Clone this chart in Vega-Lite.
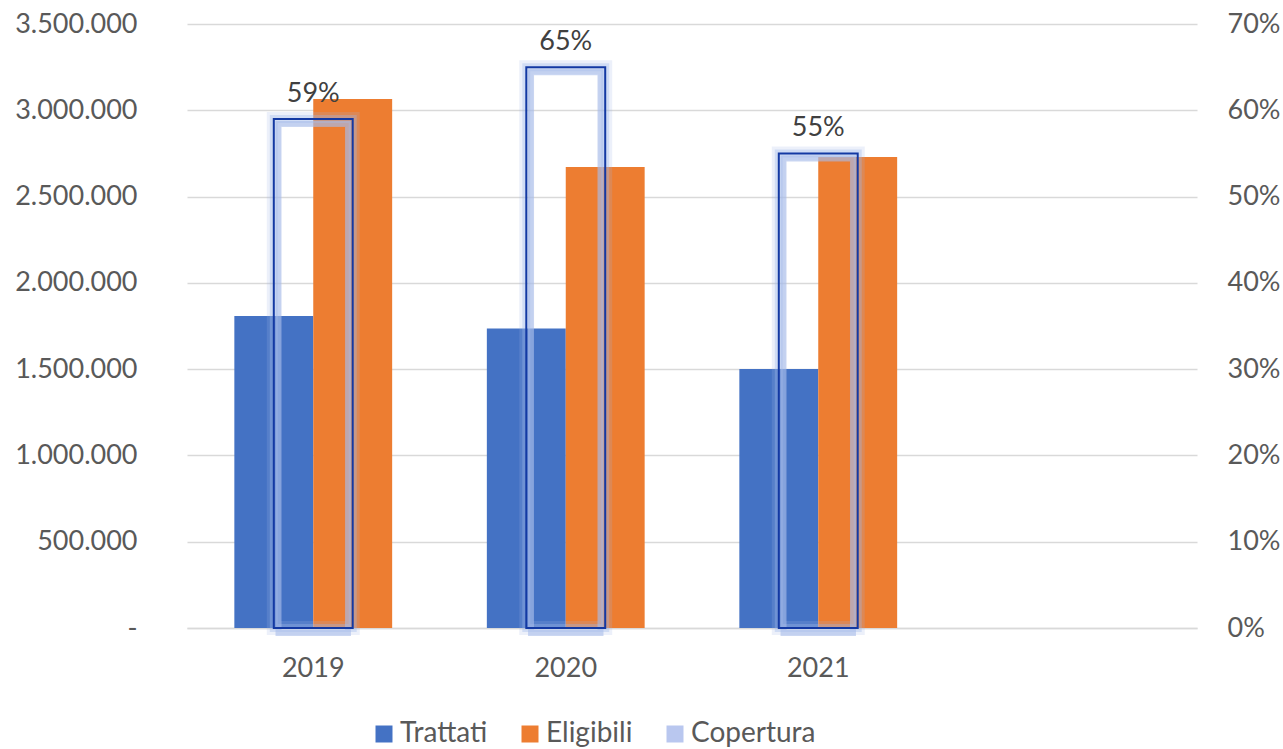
{
  "$schema": "https://vega.github.io/schema/vega-lite/v6.json",
  "width": 1010,
  "height": 604,
  "autosize": {"type": "none"},
  "padding": {"left": 187, "top": 24, "right": 86, "bottom": 121},
  "background": "white",
  "config": {
    "font": "Lato",
    "view": {"stroke": null},
    "locale": {"number": {"decimal": ",", "thousands": ".", "grouping": [3], "currency": ["", " €"]}}
  },
  "datasets": {
    "bars": [
      {"year": "2019", "series": "Trattati", "value": 1808000},
      {"year": "2019", "series": "Eligibili", "value": 3065000},
      {"year": "2020", "series": "Trattati", "value": 1736000},
      {"year": "2020", "series": "Eligibili", "value": 2671000},
      {"year": "2021", "series": "Trattati", "value": 1501000},
      {"year": "2021", "series": "Eligibili", "value": 2729000}
    ],
    "cop": [
      {"year": "2019", "cop": 0.59},
      {"year": "2020", "cop": 0.65},
      {"year": "2021", "cop": 0.55}
    ]
  },
  "encoding": {
    "x": {
      "field": "year",
      "type": "nominal",
      "sort": null,
      "scale": {"domain": ["2019", "2020", "2021", " "], "paddingInner": 0.375, "paddingOuter": 0.1875},
      "axis": {
        "title": null,
        "labelAngle": 0,
        "labelFontSize": 27,
        "labelColor": "#595959",
        "ticks": false,
        "labelPadding": 27,
        "domainColor": "#d9d9d9",
        "domainWidth": 1.5,
        "grid": false
      }
    }
  },
  "layer": [
    {
      "data": {"name": "bars"},
      "mark": {"type": "bar"},
      "encoding": {
        "xOffset": {"field": "series", "type": "nominal", "sort": ["Trattati", "Eligibili"], "scale": {"domain": ["Trattati", "Eligibili"], "paddingInner": 0, "paddingOuter": 0}},
        "y": {
          "field": "value",
          "type": "quantitative",
          "scale": {"domain": [0, 3500000], "nice": false},
          "axis": {
            "title": null,
            "values": [0, 500000, 1000000, 1500000, 2000000, 2500000, 3000000, 3500000],
            "format": ",.0f",
            "labelExpr": "datum.value == 0 ? '-\u00a0\u00a0\u00a0' : datum.label",
            "labelFontSize": 27,
            "labelColor": "#595959",
            "labelPadding": 50,
            "ticks": false,
            "domain": false,
            "gridColor": "#d9d9d9",
            "gridWidth": 1.5
          }
        },
        "color": {
          "field": "series",
          "type": "nominal",
          "scale": {"domain": ["Trattati", "Eligibili", "Copertura"], "range": ["#4472C4", "#ED7D31", "#b9c7ef"]},
          "legend": {
            "title": null,
            "orient": "none",
            "legendX": 183,
            "legendY": 696,
            "direction": "horizontal",
            "columns": 3,
            "symbolType": "square",
            "symbolSize": 289,
            "symbolStrokeWidth": 0,
            "labelFontSize": 28,
            "labelColor": "#595959",
            "labelOffset": 2,
            "columnPadding": 28
          }
        }
      }
    },
    {
      "data": {"name": "cop"},
      "encoding": {
        "y": {
          "field": "cop",
          "type": "quantitative",
          "scale": {"domain": [0, 0.7], "nice": false},
          "axis": {
            "title": null,
            "orient": "right",
            "values": [0, 0.1, 0.2, 0.3, 0.4, 0.5, 0.6, 0.7],
            "format": ".0%",
            "labelFontSize": 27,
            "labelColor": "#595959",
            "labelPadding": 30,
            "ticks": false,
            "domain": false,
            "grid": false
          }
        }
      },
      "layer": [
        {
          "mark": {"type": "bar", "width": {"band": 0.5}, "fill": "transparent", "stroke": "#9fb6e8", "strokeWidth": 14, "strokeOpacity": 0.2}
        },
        {
          "mark": {"type": "bar", "width": {"band": 0.5}, "fill": "transparent", "stroke": "#9fb6e8", "strokeWidth": 8, "strokeOpacity": 0.35}
        },
        {
          "mark": {"type": "bar", "width": {"band": 0.44}, "fill": "transparent", "stroke": "#a9bde9", "strokeWidth": 6, "strokeOpacity": 0.6, "yOffset": 5, "y2Offset": -3}
        },
        {
          "mark": {"type": "bar", "width": {"band": 0.5}, "fill": "transparent", "stroke": "#1339a3", "strokeWidth": 2}
        },
        {
          "mark": {"type": "text", "fontSize": 27, "color": "#404040", "baseline": "alphabetic", "dy": -17},
          "encoding": {"text": {"field": "cop", "type": "quantitative", "format": ".0%"}}
        }
      ]
    }
  ],
  "resolve": {"scale": {"y": "independent"}, "axis": {"y": "independent"}}
}
